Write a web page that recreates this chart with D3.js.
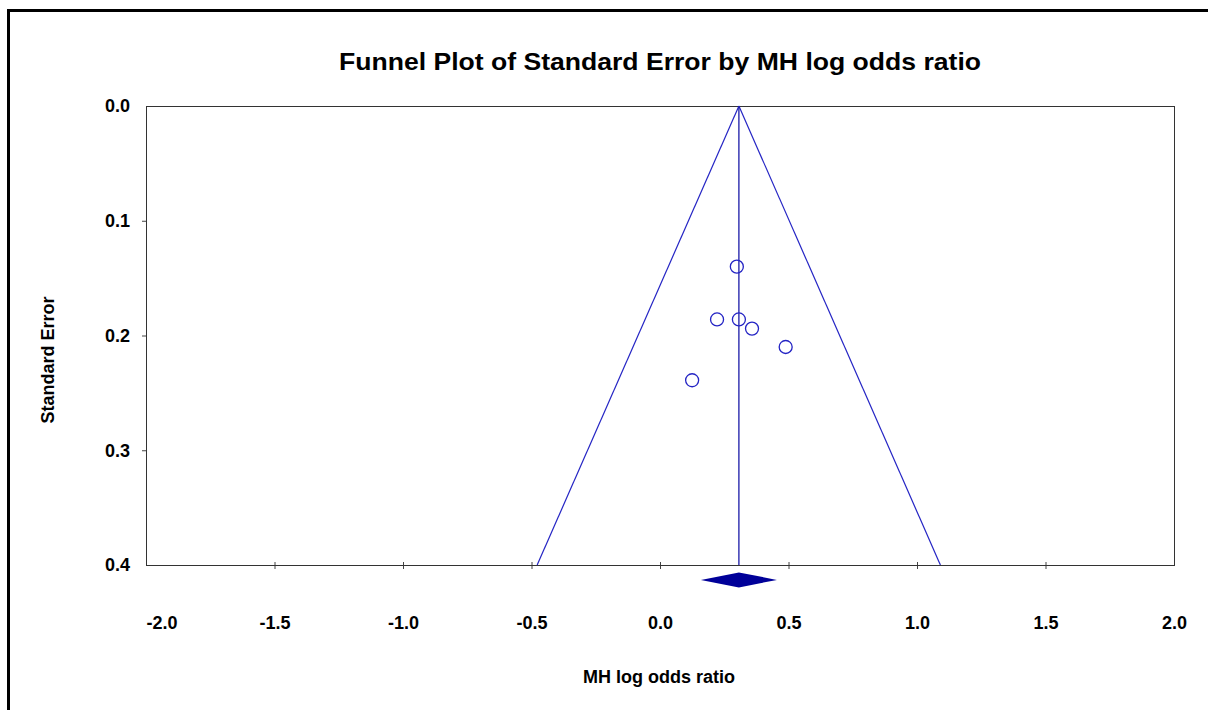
<!DOCTYPE html>
<html>
<head>
<meta charset="utf-8">
<script src="https://cdn.jsdelivr.net/npm/d3@7"></script>
<style>
  html, body { margin: 0; background: #fff; overflow: hidden; }
  svg { display: block; }
  text { font-family: Arial, "Liberation Sans", sans-serif; font-weight: bold; fill: #000; }
</style>
</head>
<body>
<svg id="funnelChart" width="1208" height="710"></svg>
<script>
// study estimates
let logOdds = [0.299, 0.222, 0.307, 0.358, 0.489, 0.125];
let stdErr = [0.140, 0.186, 0.186, 0.194, 0.210, 0.239];

// pooled MH estimate and its 95% CI (diamond)
let pooled = 0.307;
let pooledCI = [0.159, 0.455];
let diamondSE = 0.413;

// funnel edges at the bottom of the plot
let funnelSE = [0, 0.4];
let funnelLow = [0.307, -0.478];
let funnelHigh = [0.307, 1.091];

let xTicks = [-2.0, -1.5, -1.0, -0.5, 0.0, 0.5, 1.0, 1.5, 2.0];
let yTicks = [0.0, 0.1, 0.2, 0.3, 0.4];

let margin = {top: 106, left: 146};
let plotWidth = 1028;
let plotHeight = 459;
let blue = "#2424c4";

// plain hyphen for negatives, like the original
let fmt = d => d3.format(".1f")(d).replace("\u2212", "-");

let svg = d3.select("#funnelChart");

// outer frame, only the top and left edges are visible
svg.append("path")
    .attr("d", "M8.5,730V10.5H1230")
    .attr("fill", "none")
    .attr("stroke", "#000")
    .attr("stroke-width", 3);

svg.append("text")
    .text("Funnel Plot of Standard Error by MH log odds ratio")
    .attr("x", 660)
    .attr("y", 70)
    .attr("text-anchor", "middle")
    .attr("font-size", 24)
    .attr("textLength", 642)
    .attr("lengthAdjust", "spacingAndGlyphs");

let g = svg.append("g")
    .attr("transform", "translate(" + margin.left + "," + margin.top + ")");

let x = d3.scaleLinear()
    .domain([-2, 2])
    .range([0, plotWidth]);

let y = d3.scaleLinear()
    .domain([0, 0.4])
    .range([0, plotHeight]);

// x axis
let xAxis = g.append("g")
    .attr("transform", "translate(0," + plotHeight + ")")
    .call(d3.axisBottom(x).tickValues(xTicks).tickFormat(fmt).tickSize(4).tickPadding(47));
xAxis.select(".domain").remove();
xAxis.selectAll(".tick line")
    .attr("y1", -3)
    .attr("stroke", "#444")
    .attr("opacity", (d, i) => (i === 0 || i === xTicks.length - 1) ? 0 : 1);
xAxis.selectAll(".tick text")
    .attr("font-size", 18)
    .attr("font-family", null)
    .attr("fill", "#000")
    .attr("text-anchor", (d, i) => i === 0 ? "start" : "middle");

// y axis
let yAxis = g.append("g")
    .call(d3.axisLeft(y).tickValues(yTicks).tickFormat(fmt).tickSize(4).tickPadding(12));
yAxis.select(".domain").remove();
yAxis.selectAll(".tick line")
    .attr("stroke", "#444")
    .attr("opacity", (d, i) => (i === 0 || i === yTicks.length - 1) ? 0 : 1);
yAxis.selectAll(".tick text")
    .attr("font-size", 18)
    .attr("font-family", null)
    .attr("fill", "#000");

// plot frame
g.append("rect")
    .attr("x", 0.5)
    .attr("y", 0.5)
    .attr("width", plotWidth)
    .attr("height", plotHeight)
    .attr("fill", "none")
    .attr("stroke", "#333")
    .attr("stroke-width", 1);

// funnel
let funnelLine = d3.line()
    .x(d => x(d[0]))
    .y(d => y(d[1]));

g.append("path")
    .datum(funnelSE.map((s, i) => [funnelLow[i], s]))
    .attr("d", funnelLine)
    .attr("fill", "none")
    .attr("stroke", blue)
    .attr("stroke-width", 1.2);

g.append("path")
    .datum(funnelSE.map((s, i) => [funnelHigh[i], s]))
    .attr("d", funnelLine)
    .attr("fill", "none")
    .attr("stroke", blue)
    .attr("stroke-width", 1.2);

g.append("line")
    .attr("x1", x(pooled))
    .attr("x2", x(pooled))
    .attr("y1", y(0))
    .attr("y2", y(0.4))
    .attr("stroke", "#1a1aa8")
    .attr("stroke-width", 1.3);

// studies
g.selectAll(".study")
    .data(logOdds)
    .enter().append("circle")
    .attr("class", "study")
    .attr("cx", d => x(d))
    .attr("cy", (d, i) => y(stdErr[i]))
    .attr("r", 6.5)
    .attr("fill", "none")
    .attr("stroke", blue)
    .attr("stroke-width", 1.3);

// pooled diamond
let dy = y(diamondSE);
g.append("path")
    .attr("d", "M" + x(pooledCI[0]) + "," + dy +
               "L" + x(pooled) + "," + (dy - 7.5) +
               "L" + x(pooledCI[1]) + "," + dy +
               "L" + x(pooled) + "," + (dy + 7.5) + "Z")
    .attr("fill", "#000099");

// axis titles
svg.append("text")
    .text("MH log odds ratio")
    .attr("x", 659)
    .attr("y", 683)
    .attr("text-anchor", "middle")
    .attr("font-size", 18);

svg.append("text")
    .text("Standard Error")
    .attr("transform", "translate(54,360) rotate(-90)")
    .attr("text-anchor", "middle")
    .attr("font-size", 18);
</script>
</body>
</html>
